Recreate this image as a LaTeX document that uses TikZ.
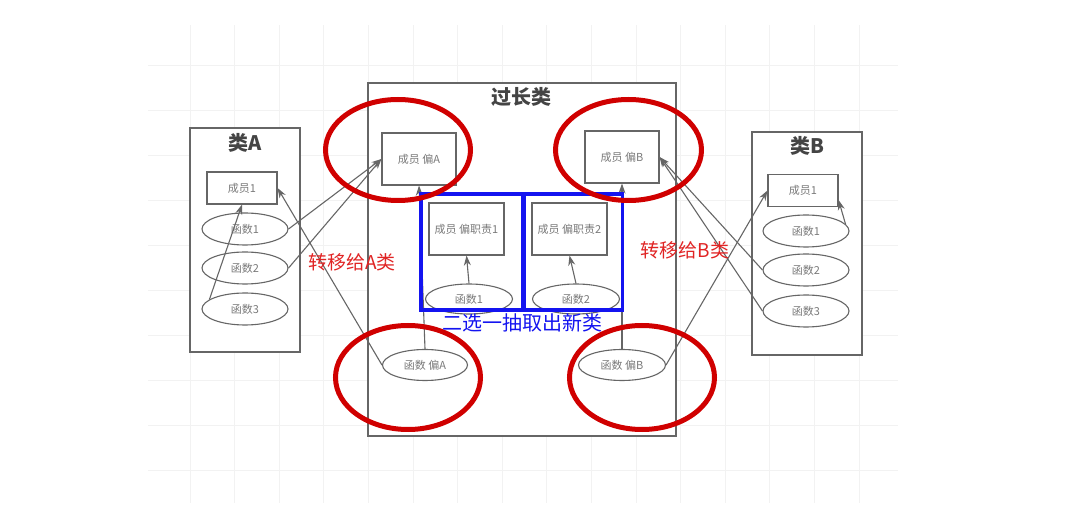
\documentclass[tikz,border=0pt]{standalone}
\usepackage{fontspec}
\setmainfont{Noto Sans CJK SC}
\usetikzlibrary{shapes.geometric,arrows.meta}
\definecolor{boxgray}{HTML}{666666}
\definecolor{txtgray}{HTML}{7A7A7A}
\definecolor{headgray}{HTML}{444444}
\definecolor{ringred}{HTML}{D00000}
\definecolor{pickblue}{HTML}{1414F0}
\definecolor{redtxt}{HTML}{E02424}
\begin{document}
\begin{tikzpicture}[x=1pt,y=-1pt,>={Stealth[length=10pt,width=7pt]},
    gridline/.style={draw=black!5,line width=0.7pt},
    cls/.style={draw=boxgray,line width=1.2pt,fill=white,inner sep=0pt},
    head/.style={font=\fontsize{20}{20}\selectfont\bfseries,text=headgray},
    mem/.style={draw=boxgray,line width=1.1pt,fill=white,inner sep=0pt,
        minimum width=70pt,minimum height=32pt,font=\fontsize{11}{11}\selectfont,text=txtgray},
    fun/.style={ellipse,draw=boxgray,line width=1.1pt,fill=white,inner sep=0pt,
        minimum width=86pt,minimum height=32pt,font=\fontsize{11}{11}\selectfont,text=txtgray},
    conn/.style={->,draw=boxgray,line width=1.1pt},
    ring/.style={draw=ringred,line width=5pt},
    pick/.style={draw=pickblue,line width=3.5pt}]
    \useasboundingbox (0,0) rectangle (1080,529);
    % background grid
    \foreach \k in {0,...,15}
        \draw[gridline] (190+44.6*\k,25) -- (190+44.6*\k,503);
    \foreach \k in {0,...,9}
        \draw[gridline] (148,65+45*\k) -- (898,65+45*\k);
    % classes
    \node[cls,minimum width=110pt,minimum height=224pt] (clsA) at (245,240) {};
    \node[cls,minimum width=110pt,minimum height=223pt] (clsB) at (807,243.5) {};
    \node[cls,minimum width=308pt,minimum height=353pt] (long) at (522,259.5) {};
    \node[head] (headA) at (245,143) {类A};
    \node[head] (headB) at (807,146) {类B};
    \node[head] (headL) at (521,97) {过长类};
    % class A
    \node[mem] (memA1) at (242,188) {成员1};
    \node[fun] (funA1) at (245,229) {函数1};
    \node[fun] (funA2) at (245,268) {函数2};
    \node[fun] (funA3) at (245,309) {函数3};
    % long class
    \node[mem,minimum width=74pt,minimum height=52pt] (memPA) at (419,159) {成员 偏A};
    \node[mem,minimum width=74pt,minimum height=52pt] (memPB) at (622,157) {成员 偏B};
    \node[mem,minimum width=75pt,minimum height=52pt] (memR1) at (466.5,229) {成员 偏职责1};
    \node[mem,minimum width=75pt,minimum height=52pt] (memR2) at (569.5,229) {成员 偏职责2};
    \node[fun,minimum width=87pt,minimum height=30pt] (funR1) at (469,299) {函数1};
    \node[fun,minimum width=87pt,minimum height=30pt] (funR2) at (576,299) {函数2};
    \node[fun,minimum width=85pt,minimum height=31pt] (funPA) at (425,365) {函数 偏A};
    \node[fun,minimum width=87pt,minimum height=31pt] (funPB) at (622,365) {函数 偏B};
    % class B
    \node[mem] (memB1) at (803,190.5) {成员1};
    \node[fun] (funB1) at (806,231) {函数1};
    \node[fun] (funB2) at (806,270) {函数2};
    \node[fun] (funB3) at (806,311) {函数3};
    % connectors
    \draw[conn] (funA3.165) -- (memA1.south);
    \draw[conn] (funA1.east) -- (memPA.west);
    \draw[conn] (funA2.east) -- (memPA.west);
    \draw[conn] (funPA.west) -- (memA1.east);
    \draw[conn] (funPA.north) -- (memPA.south);
    \draw[conn] (funR1.north) -- (memR1.south);
    \draw[conn] (funR2.north) -- (memR2.south);
    \draw[conn] (funPB.north) -- (memPB.south);
    \draw[conn] (funPB.east) -- (memB1.west);
    \draw[conn] (funB2.west) -- (memPB.east);
    \draw[conn] (funB3.west) -- (memPB.east);
    \draw[conn] (funB1.10) -- (memB1.-15);
    % extracted classes
    \draw[pick] (421,194) rectangle (522.5,310);
    \draw[pick] (524,194) rectangle (622.5,310);
    % highlight rings
    \draw[ring] (398,150) ellipse [x radius=72.5,y radius=50.5];
    \draw[ring] (628.5,150) ellipse [x radius=73,y radius=50.5];
    \draw[ring] (408,377.5) ellipse [x radius=72.5,y radius=52];
    \draw[ring] (642,377.5) ellipse [x radius=72.5,y radius=52];
    % notes
    \node[text=redtxt,font=\fontsize{19}{19}\selectfont] (noteA) at (352,262) {转移给A类};
    \node[text=redtxt,font=\fontsize{19}{19}\selectfont] (noteB) at (685,250) {转移给B类};
    \node[text=pickblue,font=\fontsize{20}{20}\selectfont] (noteN) at (522,323) {二选一抽取出新类};
\end{tikzpicture}
\end{document}
